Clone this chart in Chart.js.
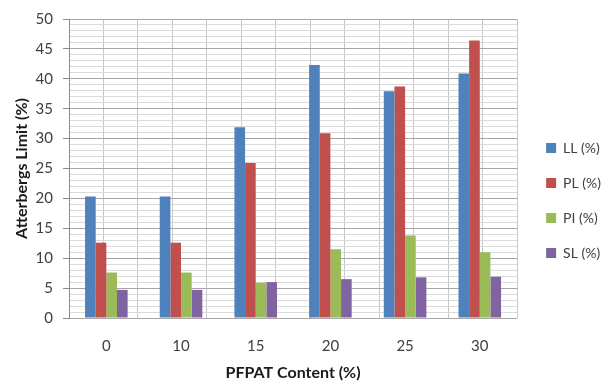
<!DOCTYPE html>
<html>
<head>
<meta charset="utf-8">
<script src="https://cdn.jsdelivr.net/npm/chart.js@4.4.1/dist/chart.umd.min.js"></script>
<style>
  html, body { margin: 0; padding: 0; background: #fff; }
  #wrap { width: 608px; height: 385px; }
</style>
</head>
<body>
<div id="wrap"><canvas id="atterbergChart" width="608" height="385"></canvas></div>
<script>
const categories = ['0', '10', '15', '20', '25', '30'];
const llValues = [20.3, 20.3, 31.9, 42.3, 37.9, 40.9];
const plValues = [12.6, 12.6, 25.9, 30.9, 38.7, 46.4];
const piValues = [7.6, 7.6, 5.9, 11.5, 13.8, 11.0];
const slValues = [4.7, 4.7, 6.0, 6.5, 6.8, 6.9];
const seriesNames = ['LL (%)', 'PL (%)', 'PI (%)', 'SL (%)'];

const fontName = 'Lato, "Open Sans", sans-serif';

// nudge the legend a bit to the right, away from the plot
const legendShift = {
  id: 'legendShift',
  afterLayout(chart) {
    if (chart.legend) {
      chart.legend.left += 8;
      chart.legend.right += 8;
    }
  }
};

const ctx = document.getElementById('atterbergChart').getContext('2d');

const atterbergChart = new Chart(ctx, {
  type: 'bar',
  data: {
    labels: categories,
    datasets: [
      { label: seriesNames[0], data: llValues, backgroundColor: '#4F81BD' },
      { label: seriesNames[1], data: plValues, backgroundColor: '#C0504D' },
      { label: seriesNames[2], data: piValues, backgroundColor: '#9BBB59' },
      { label: seriesNames[3], data: slValues, backgroundColor: '#8064A2' }
    ]
  },
  plugins: [legendShift],
  options: {
    responsive: false,
    animation: false,
    categoryPercentage: 0.57,
    barPercentage: 1,
    layout: { padding: { top: 16, left: 0, right: 5, bottom: 0 } },
    plugins: {
      tooltip: { enabled: false },
      legend: {
        position: 'right',
        labels: {
          boxWidth: 10,
          boxHeight: 10,
          padding: 21,
          color: '#404040',
          font: { family: fontName, size: 14 }
        }
      }
    },
    scales: {
      x: {
        grid: { display: false, drawTicks: false },
        border: { display: false },
        ticks: { color: '#404040', padding: 19, font: { family: fontName, size: 15 } },
        title: {
          display: true,
          text: 'PFPAT Content (%)',
          color: '#1a1a1a',
          padding: { top: 4, bottom: 3 },
          font: { family: fontName, size: 16, weight: 'bold' }
        },
        afterFit: (scale) => { scale.height = 67; }
      },
      x2: {
        type: 'linear',
        position: 'bottom',
        min: -0.5,
        max: 5.5,
        ticks: { display: false, stepSize: 0.5, autoSkip: false },
        grid: { color: '#c8c8c8', drawTicks: false },
        border: { display: false },
        afterFit: (scale) => { scale.height = 0; }
      },
      y: {
        min: 0,
        max: 50,
        ticks: {
          stepSize: 1,
          autoSkip: false,
          padding: 10,
          color: '#404040',
          font: { family: fontName, size: 15 },
          callback: (value) => (value % 5 === 0 ? value : '')
        },
        grid: {
          tickLength: 6,
          color: (c) => (c.tick && c.tick.value % 5 === 0 ? '#a6a6a6' : '#dadada'),
          tickColor: (c) => (c.tick && c.tick.value % 5 === 0 ? '#8c8c8c' : 'rgba(0,0,0,0)')
        },
        border: { color: '#8c8c8c' },
        title: {
          display: true,
          text: 'Atterbergs Limit (%)',
          color: '#1a1a1a',
          padding: { top: 12, bottom: 0 },
          font: { family: fontName, size: 16, weight: 'bold' }
        },
        afterFit: (scale) => { scale.width = 69; }
      }
    }
  }
});
</script>
</body>
</html>
